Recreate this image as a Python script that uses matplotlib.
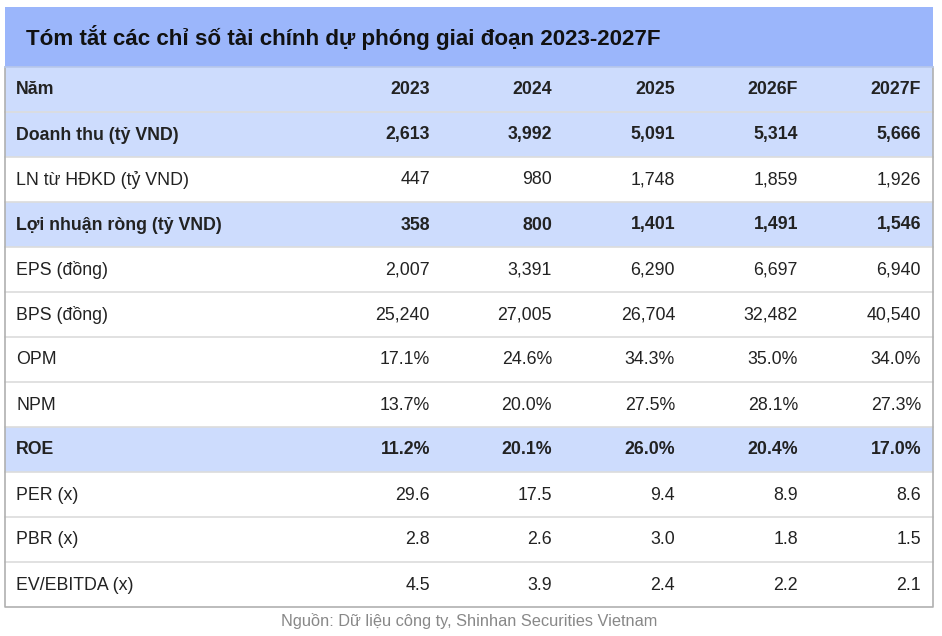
import matplotlib
matplotlib.use('agg')
import matplotlib.pyplot as plt
from matplotlib.patches import Rectangle

plt.rcParams['font.family'] = ['Liberation Sans', 'DejaVu Sans']

title = "Tóm tắt các chỉ số tài chính dự phóng giai đoạn 2023-2027F"
source = "Nguồn: Dữ liệu công ty, Shinhan Securities Vietnam"

years = ['2023', '2024', '2025', '2026F', '2027F']
row_labels = ['Doanh thu (tỷ VND)', 'LN từ HĐKD (tỷ VND)', 'Lợi nhuận ròng (tỷ VND)',
              'EPS (đồng)', 'BPS (đồng)', 'OPM', 'NPM', 'ROE',
              'PER (x)', 'PBR (x)', 'EV/EBITDA (x)']
revenue = ['2,613', '3,992', '5,091', '5,314', '5,666']
op_profit = ['447', '980', '1,748', '1,859', '1,926']
net_profit = ['358', '800', '1,401', '1,491', '1,546']
eps = ['2,007', '3,391', '6,290', '6,697', '6,940']
bps = ['25,240', '27,005', '26,704', '32,482', '40,540']
opm = ['17.1%', '24.6%', '34.3%', '35.0%', '34.0%']
npm = ['13.7%', '20.0%', '27.5%', '28.1%', '27.3%']
roe = ['11.2%', '20.1%', '26.0%', '20.4%', '17.0%']
per = ['29.6', '17.5', '9.4', '8.9', '8.6']
pbr = ['2.8', '2.6', '3.0', '1.8', '1.5']
ev_ebitda = ['4.5', '3.9', '2.4', '2.2', '2.1']
highlight = ['Doanh thu (tỷ VND)', 'Lợi nhuận ròng (tỷ VND)', 'ROE']

rows = [revenue, op_profit, net_profit, eps, bps, opm, npm, roe, per, pbr, ev_ebitda]

W, H = 942, 636
fig = plt.figure(figsize=(W/100, H/100), dpi=100)
ax = fig.add_axes([0, 0, 1, 1])
ax.set_xlim(0, W)
ax.set_ylim(H, 0)
ax.axis('off')

left, right = 4.5, 933
top, title_h, row_h = 6.5, 60, 45
col_right = [430, 552, 675, 798, 921]
fs = 12.8

# title band
ax.add_patch(Rectangle((left, top), right-left, title_h, facecolor='#9bb6fb', edgecolor='none'))
ax.text(26, top+title_h/2+1, title, fontsize=16.1, fontweight='bold', color='#111111',
        ha='left', va='center')

# header row + body rows
y0 = top + title_h
all_rows = [('Năm', years, True)] + [(lab, vals, lab in highlight) for lab, vals in zip(row_labels, rows)]
for i, (lab, vals, hl) in enumerate(all_rows):
    y = y0 + i*row_h
    if hl:
        ax.add_patch(Rectangle((left, y), right-left, row_h, facecolor='#cddcfd', edgecolor='none'))
    if i > 0:
        ax.plot([left, right], [y, y], color='#dcdcdc', lw=1.2)
    weight = 'bold' if hl else 'normal'
    yc = y + row_h/2 + 1
    ax.text(16, yc, lab, fontsize=fs, fontweight=weight, color='#222222', ha='left', va='center')
    for x, v in zip(col_right, vals):
        ax.text(x, yc, v, fontsize=fs, fontweight=weight, color='#222222', ha='right', va='center')

bottom = y0 + len(all_rows)*row_h
# outer border (below title)
ax.plot([left, left, right, right], [y0, bottom, bottom, y0], color='#b0b0b0', lw=1.2)
ax.plot([left, right], [y0, y0], color='#b8c8ea', lw=1.2)

ax.text(W/2-2, 621, source, fontsize=11.8, color='#888888', ha='center', va='center')

fig.savefig('out.png', dpi=100)
